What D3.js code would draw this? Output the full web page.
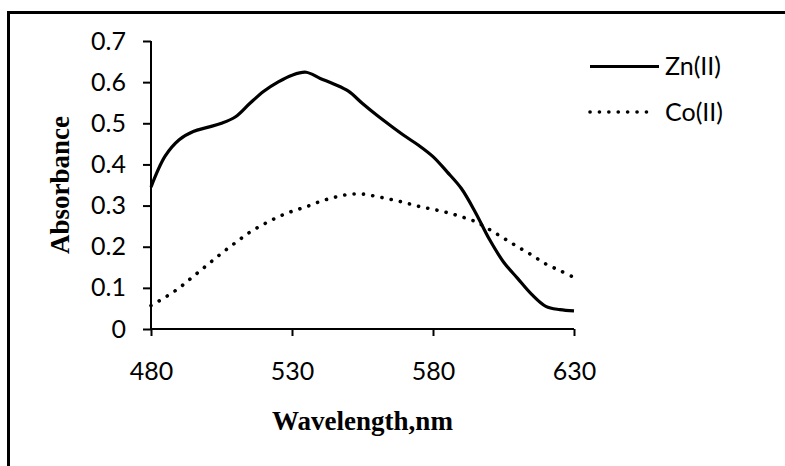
<!DOCTYPE html>
<meta charset="utf-8">
<style>
body { margin: 0; background: #fff; }
.tick text { font: 25px Lato, sans-serif; fill: #000; }
.ttl { font: bold 27px "Liberation Serif", "Times New Roman", serif; fill: #000; }
.leg { font: 25px Lato, sans-serif; fill: #000; }
</style>
<svg width="785" height="466"></svg>
<script src="https://d3js.org/d3.v7.min.js"></script>
<script>

// wavelength grid, nm
var wavelengths = [480,485,490,495,500,505,510,515,520,525,530,535,540,545,550,555,
                   560,565,570,575,580,585,590,595,600,605,610,615,620,625,630];

var zn = [0.345,0.42,0.46,0.48,0.49,0.50,0.516,0.548,0.578,0.60,0.617,0.624,0.609,0.595,0.578,0.548,
          0.52,0.494,0.469,0.446,0.419,0.382,0.342,0.284,0.218,0.163,0.123,0.084,0.055,0.047,0.044];

var co = [0.057,0.077,0.10,0.128,0.156,0.184,0.21,0.235,0.255,0.272,0.286,0.297,0.31,0.32,0.327,0.328,
          0.322,0.315,0.307,0.298,0.291,0.283,0.273,0.261,0.242,0.221,0.2,0.18,0.158,0.142,0.125];

var xTicks = [480,530,580,630];
var yTicks = [0,0.1,0.2,0.3,0.4,0.5,0.6,0.7];
var seriesNames = ["Zn(II)","Co(II)"];

var svg = d3.select("svg");

// outer frame (runs off the right/bottom of the picture)
svg.append("rect")
  .attr("x", 8.5).attr("y", 12.5)
  .attr("width", 800).attr("height", 500)
  .attr("fill", "none").attr("stroke", "#000").attr("stroke-width", 3);

var x = d3.scaleLinear().domain([480,630]).range([151,574]);
var y = d3.scaleLinear().domain([0,0.7]).range([329,41]);

// axes
var yAxis = svg.append("g")
  .attr("transform", "translate(151,0)")
  .call(d3.axisLeft(y).tickValues(yTicks).tickSize(8).tickPadding(17)
        .tickFormat(function(d){ return d === 0 ? "0" : d3.format(".1f")(d); }));

var xAxis = svg.append("g")
  .attr("transform", "translate(0,329)")
  .call(d3.axisBottom(x).tickValues(xTicks).tickSize(7).tickPadding(26).tickFormat(d3.format("d")));

svg.selectAll(".domain").attr("stroke-width", 2).attr("stroke", "#000");
svg.selectAll(".tick line").attr("stroke-width", 2).attr("stroke", "#000");
svg.selectAll("g").attr("font-size", null).attr("font-family", null);
svg.selectAll(".domain").attr("d", function(){
  return this.parentNode === yAxis.node() ? "M0,329V41" : "M151,0H574";
});

// curves
var line = function(vals){
  return d3.line()
    .x(function(d,i){ return x(wavelengths[i]); })
    .y(function(d){ return y(d); })
    .curve(d3.curveCatmullRom)(vals);
};

svg.append("path")
  .attr("d", line(zn))
  .attr("fill", "none").attr("stroke", "#000").attr("stroke-width", 3.2);

svg.append("path")
  .attr("d", line(co))
  .attr("fill", "none").attr("stroke", "#000").attr("stroke-width", 3.6)
  .attr("stroke-linecap", "round").attr("stroke-dasharray", "0.1 9.3");

// axis titles
svg.append("text").attr("class", "ttl")
  .attr("x", 362.5).attr("y", 430).attr("text-anchor", "middle")
  .text("Wavelength,nm");

svg.append("text").attr("class", "ttl")
  .attr("transform", "translate(69,185) rotate(-90)")
  .attr("text-anchor", "middle")
  .text("Absorbance");

// legend
var leg = svg.append("g");
var legY = [66.5, 112];
seriesNames.forEach(function(name, i){
  leg.append("line")
    .attr("x1", 590).attr("x2", i === 0 ? 659 : 655)
    .attr("y1", legY[i]).attr("y2", legY[i])
    .attr("stroke", "#000")
    .attr("stroke-width", i === 0 ? 3.2 : 3.6)
    .attr("stroke-linecap", i === 0 ? "butt" : "round")
    .attr("stroke-dasharray", i === 0 ? null : "0.1 9.3");
  leg.append("text").attr("class", "leg")
    .attr("x", 665).attr("y", legY[i]).attr("dy", "0.35em")
    .text(name);
});

</script>
